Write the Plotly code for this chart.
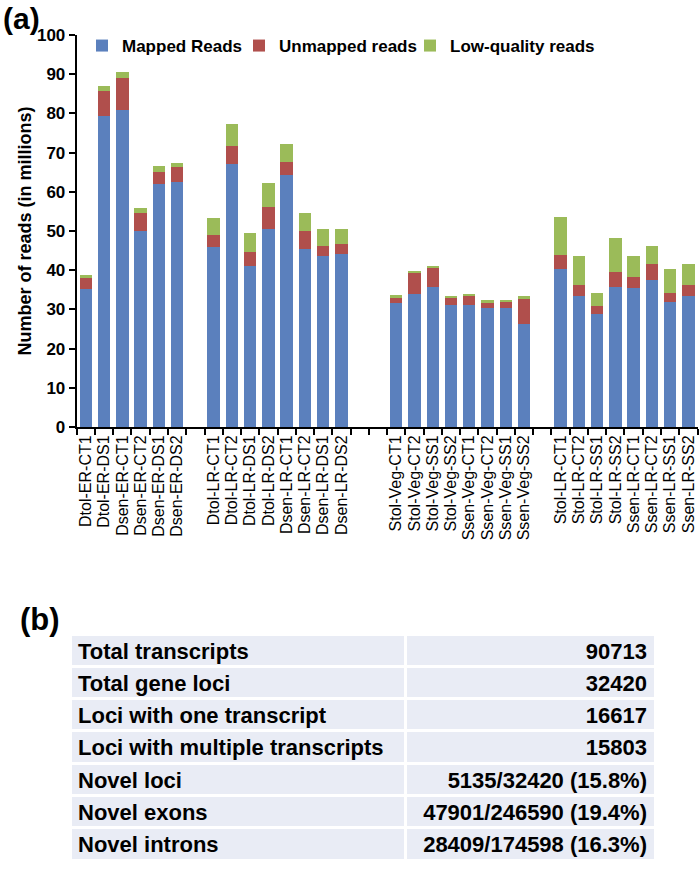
import plotly.graph_objects as go

# ---------------- data (panel a) ----------------
group_er = ["Dtol-ER-CT1", "Dtol-ER-DS1", "Dsen-ER-CT1", "Dsen-ER-CT2", "Dsen-ER-DS1", "Dsen-ER-DS2"]
group_lr_d = ["Dtol-LR-CT1", "Dtol-LR-CT2", "Dtol-LR-DS1", "Dtol-LR-DS2",
              "Dsen-LR-CT1", "Dsen-LR-CT2", "Dsen-LR-DS1", "Dsen-LR-DS2"]
group_veg = ["Stol-Veg-CT1", "Stol-Veg-CT2", "Stol-Veg-SS1", "Stol-Veg-SS2",
             "Ssen-Veg-CT1", "Ssen-Veg-CT2", "Ssen-Veg-SS1", "Ssen-Veg-SS2"]
group_lr_s = ["Stol-LR-CT1", "Stol-LR-CT2", "Stol-LR-SS1", "Stol-LR-SS2",
              "Ssen-LR-CT1", "Ssen-LR-CT2", "Ssen-LR-SS1", "Ssen-LR-SS2"]
gaps_after = [1, 2, 1, 0]  # empty category slots after each group

mapped_er = [35.1, 79.3, 80.9, 50.0, 62.0, 62.5]
unmapped_er = [3.0, 6.5, 8.2, 4.5, 3.1, 3.8]
lowq_er = [0.7, 1.2, 1.5, 1.3, 1.5, 1.0]

mapped_lr_d = [46.0, 67.0, 41.1, 50.5, 64.2, 45.4, 43.7, 44.2]
unmapped_lr_d = [2.9, 4.7, 3.6, 5.5, 3.3, 4.6, 2.5, 2.4]
lowq_lr_d = [4.5, 5.7, 4.7, 6.2, 4.6, 4.5, 4.4, 4.0]

mapped_veg = [31.7, 34.0, 35.7, 31.2, 31.1, 30.3, 30.4, 26.3]
unmapped_veg = [1.3, 5.5, 5.0, 1.7, 2.3, 1.4, 1.5, 6.3]
lowq_veg = [0.6, 0.4, 0.4, 0.6, 0.6, 0.7, 0.5, 0.9]

mapped_lr_s = [40.3, 33.4, 28.9, 35.7, 35.5, 37.5, 31.8, 33.4]
unmapped_lr_s = [3.7, 2.9, 1.9, 3.9, 2.8, 4.2, 2.5, 2.8]
lowq_lr_s = [9.6, 7.2, 3.3, 8.5, 5.4, 4.6, 5.9, 5.4]

series_names = ["Mapped Reads", "Unmapped reads", "Low-quality reads"]
series_colors = ["#5b80bd", "#b04f4c", "#9bbb59"]

# ---------------- data (panel b) ----------------
table_labels = ["Total transcripts", "Total gene loci", "Loci with one transcript",
                "Loci with multiple transcripts", "Novel loci", "Novel exons", "Novel introns"]
table_values = ["90713", "32420", "16617", "15803",
                "5135/32420 (15.8%)", "47901/246590 (19.4%)", "28409/174598 (16.3%)"]

# ---------------- assemble ----------------
groups = [group_er, group_lr_d, group_veg, group_lr_s]
mapped_all = [mapped_er, mapped_lr_d, mapped_veg, mapped_lr_s]
unmapped_all = [unmapped_er, unmapped_lr_d, unmapped_veg, unmapped_lr_s]
lowq_all = [lowq_er, lowq_lr_d, lowq_veg, lowq_lr_s]

xpos, labels, mapped, unmapped, lowq = [], [], [], [], []
slot = 0
for g, m, u, q, gap in zip(groups, mapped_all, unmapped_all, lowq_all, gaps_after):
    for name, a, b, c in zip(g, m, u, q):
        xpos.append(slot)
        labels.append(name)
        mapped.append(a)
        unmapped.append(b)
        lowq.append(c)
        slot += 1
    slot += gap
n_slots = slot

FONT = "Liberation Sans, Arial, sans-serif"
legend_ids = ["legend", "legend2", "legend3"]
legend_x_px = [82, 239, 410]

fig = go.Figure()
for name, vals, col, lid in zip(series_names, [mapped, unmapped, lowq], series_colors, legend_ids):
    fig.add_trace(go.Bar(x=xpos, y=vals, name=name, marker=dict(color=col, line=dict(width=0)),
                         xaxis="x", yaxis="y", legend=lid))

fig.add_trace(go.Table(
    domain=dict(x=[70 / 700, 655 / 700], y=[1 - 862 / 880, 1 - 634 / 880]),
    columnwidth=[335, 250],
    header=dict(values=[table_labels[0], table_values[0]],
                fill_color="#e9ecf5", line=dict(color="white", width=3),
                align=["left", "right"], height=32.3,
                font=dict(family=FONT, size=22, color="black", weight="bold")),
    cells=dict(values=[table_labels[1:], table_values[1:]],
               fill_color="#e9ecf5", line=dict(color="white", width=3),
               align=["left", "right"], height=32.3,
               font=dict(family=FONT, size=22, color="black", weight="bold")),
))

legend_common = dict(orientation="h", xanchor="left", yanchor="top",
                     font=dict(family=FONT, size=17, color="black", weight="bold"),
                     itemwidth=30, bgcolor="rgba(0,0,0,0)")

fig.update_layout(
    width=700, height=880,
    margin=dict(l=0, r=0, t=0, b=0, autoexpand=False),
    paper_bgcolor="white", plot_bgcolor="white",
    barmode="stack", bargap=0.32,
    showlegend=True,
    legend=dict(x=legend_x_px[0] / 700, y=1 - 28 / 880, **legend_common),
    legend2=dict(x=legend_x_px[1] / 700, y=1 - 28 / 880, **legend_common),
    legend3=dict(x=legend_x_px[2] / 700, y=1 - 28 / 880, **legend_common),
    xaxis=dict(domain=[76.7 / 700, 697.5 / 700], range=[-0.5, n_slots - 0.5],
               tickmode="array", tickvals=xpos, ticktext=labels, tickangle=-90,
               ticks="", showline=True, linecolor="black", linewidth=2,
               showgrid=False, zeroline=False, fixedrange=True, automargin=False,
               tickfont=dict(family=FONT, size=16, color="black"),
               minor=dict(tickmode="array", tickvals=[i - 0.5 for i in range(n_slots + 1)],
                          ticks="outside", ticklen=6, tickwidth=1.5, tickcolor="black",
                          showgrid=False)),
    yaxis=dict(domain=[1 - 427 / 880, 1 - 35 / 880], range=[0, 100], dtick=10,
               ticks="outside", ticklen=6, tickwidth=1.5, tickcolor="black",
               showline=True, linecolor="black", linewidth=2,
               showgrid=False, zeroline=False, automargin=False, fixedrange=True,
               tickfont=dict(family=FONT, size=17, color="black", weight="bold"),
               title=dict(text="Number of reads (in millions)", standoff=1,
                          font=dict(family=FONT, size=18, color="black", weight="bold"))),
    annotations=[
        dict(text="(a)", x=1 / 700, y=1 - 0 / 880, xref="paper", yref="paper",
             xanchor="left", yanchor="top", showarrow=False,
             font=dict(family=FONT, size=30, color="black", weight="bold")),
        dict(text="(b)", x=18 / 700, y=1 - 600 / 880, xref="paper", yref="paper",
             xanchor="left", yanchor="top", showarrow=False,
             font=dict(family=FONT, size=31, color="black", weight="bold")),
    ],
)

fig.write_html("out.html", config={"displayModeBar": False},
               post_script="document.body.style.margin='0';document.body.style.overflow='hidden';")
